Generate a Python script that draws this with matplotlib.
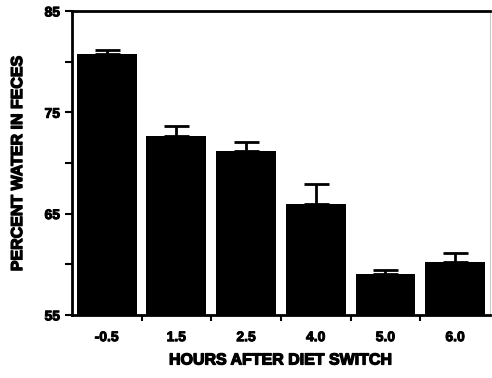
import numpy as np
import matplotlib.pyplot as plt
import matplotlib.patheffects as pe

plt.rcParams['font.family'] = ['Liberation Sans', 'DejaVu Sans']
plt.rcParams['font.weight'] = 'bold'

hours = ['-0.5', '1.5', '2.5', '4.0', '5.0', '6.0']
water = [80.8, 72.7, 71.2, 65.9, 59.0, 60.2]
sem = [0.3, 0.9, 0.9, 2.0, 0.4, 0.9]

heavy = [pe.withStroke(linewidth=0.9, foreground='black')]

fig = plt.figure(figsize=(4.92, 3.78), dpi=100)
ax = fig.add_axes([0.146, 0.167, 0.85, 0.804])

x = np.arange(len(hours))
ax.bar(x, water, width=0.86, color='black')
ax.errorbar(x, water, yerr=[np.zeros(len(sem)), sem], fmt='none',
            ecolor='black', elinewidth=2, capsize=9, capthick=2)

ax.set_ylim(55, 85)
ax.set_xlim(-0.5, 5.5)
ax.set_yticks([55, 65, 75, 85])
ax.set_yticks([60, 70, 80], minor=True)
ax.set_xticks(x)
ax.set_xticklabels(hours)
ax.set_xticks(x[:-1] + 0.5, minor=True)
ax.tick_params(axis='x', which='major', length=0, pad=11, labelsize=10)
ax.tick_params(axis='x', which='minor', length=4, width=1.5, direction='out')
ax.tick_params(axis='y', which='both', length=5, width=1.5, direction='out', labelsize=10)

ax.spines['left'].set_linewidth(2)
ax.spines['bottom'].set_linewidth(2)
ax.spines['top'].set_linewidth(2)
ax.spines['right'].set_linewidth(0.8)
ax.spines['right'].set_color('#cccccc')

ax.set_xlabel('HOURS AFTER DIET SWITCH', fontsize=11.5, fontweight='bold',
              labelpad=6, path_effects=heavy)
ax.set_ylabel('PERCENT WATER IN FECES', fontsize=11.5, fontweight='bold',
              labelpad=14, path_effects=heavy)
for t in ax.get_xticklabels() + ax.get_yticklabels():
    t.set_path_effects([pe.withStroke(linewidth=0.7, foreground='black')])

fig.savefig('out.png', dpi=100)
